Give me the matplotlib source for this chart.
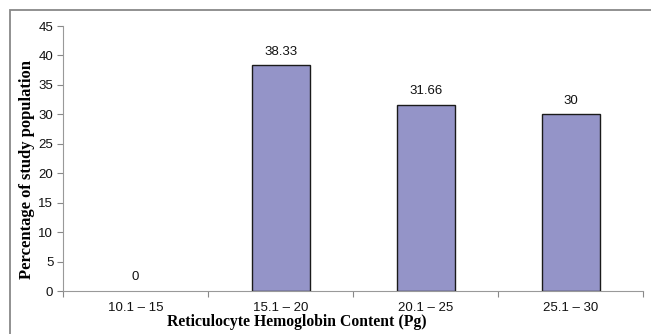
import matplotlib
matplotlib.use('Agg')
import matplotlib.pyplot as plt
from matplotlib.patches import Rectangle

categories = ['10.1 – 15', '15.1 – 20', '20.1 – 25', '25.1 – 30']
values = [0, 38.33, 31.66, 30]
labels = ['0', '38.33', '31.66', '30']

fig = plt.figure(figsize=(6.51, 3.34), dpi=100)
ax = fig.add_axes([0.0968, 0.1287, 0.8912, 0.7933])

x = range(len(categories))
edges = ['#1a1a1a' if v > 0 else 'none' for v in values]
ax.bar(x, values, width=0.4, color='#9494c8', edgecolor=edges, linewidth=1.0)
for i, (v, t) in enumerate(zip(values, labels)):
    ax.text(i, v + 1.3, t, ha='center', va='bottom', fontsize=9.5,
            family='Liberation Sans', color='#111111')

ax.set_xlim(-0.5, len(categories) - 0.5)
ax.set_ylim(0, 45)
ax.set_yticks(range(0, 46, 5))
ax.set_xticks([i - 0.5 for i in range(len(categories) + 1)])
ax.set_xticklabels([])
ax.set_xticks(list(x), minor=True)
ax.set_xticklabels(categories, minor=True)
ax.tick_params(axis='x', which='minor', length=0, pad=8)
ax.tick_params(axis='x', which='major', length=4, color='#888888', direction='out')
ax.tick_params(axis='y', length=4, color='#888888', direction='out', pad=3)
for lab in ax.get_xticklabels(minor=True) + ax.get_yticklabels():
    lab.set_family('Liberation Sans')
    lab.set_fontsize(9.5)
    lab.set_color('#111111')

for s in ['top', 'right']:
    ax.spines[s].set_visible(False)
ax.spines['left'].set_color('#999999')
ax.spines['bottom'].set_color('#999999')

ax.set_ylabel('Percentage of study population', family='Liberation Serif',
              fontweight='bold', fontsize=12)
ax.set_xlabel('Reticulocyte Hemoglobin Content (Pg)', family='Liberation Serif',
              fontweight='bold', fontsize=11.3)
ax.yaxis.set_label_coords(-0.062, 0.46)
ax.xaxis.set_label_coords(0.403, -0.117)
ax.xaxis.label.set_va('center')
ax.yaxis.label.set_va('center')

# frame around the chart, open at right and bottom edges of the image
fig.patches.append(Rectangle((10 / 651, -0.05), 1.0, (324 / 334) + 0.05,
                             transform=fig.transFigure, fill=False,
                             edgecolor='#888888', linewidth=1.3))

fig.savefig('out.png', dpi=100)
